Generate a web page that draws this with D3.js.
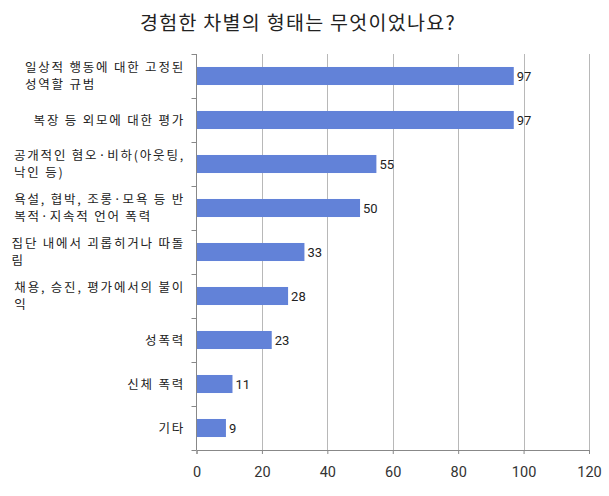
<!DOCTYPE html>
<html>
<head>
<meta charset="utf-8">
<script src="https://cdn.jsdelivr.net/npm/d3@7"></script>
<style>
  body { margin: 0; background: #fff; }
  svg { display: block; font-family: "Noto Sans CJK KR", "Noto Sans", sans-serif; }
</style>
</head>
<body>
<svg width="609" height="496"></svg>
<script>
// chart data
const categories = [
    ["일상적 행동에 대한 고정된", "성역할 규범"],
    ["복장 등 외모에 대한 평가"],
    ["공개적인 혐오·비하(아웃팅,", "낙인 등)"],
    ["욕설, 협박, 조롱·모욕 등 반", "복적·지속적 언어 폭력"],
    ["집단 내에서 괴롭히거나 따돌", "림"],
    ["채용, 승진, 평가에서의 불이", "익"],
    ["성폭력"],
    ["신체 폭력"],
    ["기타"]
];
const counts = [97, 97, 55, 50, 33, 28, 23, 11, 9];
const xTicks = [0, 20, 40, 60, 80, 100, 120];
const title = "경험한 차별의 형태는 무엇이었나요?";

const svg = d3.select("svg");
const plotLeft = 196.5, plotRight = 589, plotTop = 54, plotBottom = 450;

const x = d3.scaleLinear().domain([0, 120]).range([plotLeft, plotRight]);
const y = d3.scaleBand().domain(d3.range(categories.length)).range([plotTop, plotBottom]).paddingInner(0.59).paddingOuter(0.295);

svg.append("text")
    .attr("x", 298).attr("y", 30)
    .attr("text-anchor", "middle")
    .style("font-size", "19.5px").style("fill", "#222")
    .style("letter-spacing", "1.3px")
    .text(title);

// vertical gridlines
svg.append("g").selectAll("line")
    .data(xTicks.slice(1))
    .enter().append("line")
        .attr("x1", d => Math.round(x(d)) + 0.5).attr("x2", d => Math.round(x(d)) + 0.5)
        .attr("y1", plotTop).attr("y2", plotBottom)
        .style("stroke", "#b8b8b8");

// bars
svg.append("g").selectAll("rect")
    .data(counts)
    .enter().append("rect")
        .attr("x", x(0))
        .attr("y", (d, i) => y(i))
        .attr("width", d => x(d) - x(0))
        .attr("height", y.bandwidth())
        .style("fill", "#6282d8");

// value labels
svg.append("g").selectAll("text")
    .data(counts)
    .enter().append("text")
        .attr("x", d => x(d) + 3)
        .attr("y", (d, i) => y(i) + y.bandwidth() / 2 + 5)
        .style("font-size", "13px").style("fill", "#222")
        .style("font-family", "Roboto, 'Noto Sans', sans-serif")
        .text(d => d);

// bottom axis
const xAxis = svg.append("g")
    .attr("transform", `translate(0,${plotBottom})`)
    .call(d3.axisBottom(x).tickValues(xTicks).tickSize(4).tickPadding(13));
xAxis.select(".domain").style("stroke", "#888");
xAxis.selectAll(".tick line").style("stroke", "#888");
xAxis.selectAll(".tick text").style("font-size", "14.5px").style("fill", "#333")
    .style("font-family", "Roboto, 'Noto Sans', sans-serif");

// left axis with ticks on band edges
const edges = d3.range(categories.length + 1).map(i => plotTop + i * (plotBottom - plotTop) / categories.length);
svg.append("line")
    .attr("x1", plotLeft).attr("x2", plotLeft).attr("y1", plotTop).attr("y2", plotBottom)
    .style("stroke", "#888");
svg.append("g").selectAll("line")
    .data(edges)
    .enter().append("line")
        .attr("x1", plotLeft - 5).attr("x2", plotLeft)
        .attr("y1", d => Math.round(d) + 0.5).attr("y2", d => Math.round(d) + 0.5)
        .style("stroke", "#888");

// category labels: block right aligned, lines left aligned
const labelRight = 185, lineH = 16.5;
categories.forEach((lines, i) => {
    const cy = y(i) + y.bandwidth() / 2;
    const g = svg.append("g");
    const texts = lines.map((ln, j) => g.append("text")
        .attr("x", 0)
        .attr("y", cy + (j - (lines.length - 1) / 2) * lineH + 4.5)
        .style("font-size", "12.5px").style("fill", "#222")
        .style("letter-spacing", "1.8px")
        .text(ln));
    const w = d3.max(texts, t => t.node().getComputedTextLength());
    g.attr("transform", `translate(${labelRight - w},0)`);
});
</script>
</body>
</html>
